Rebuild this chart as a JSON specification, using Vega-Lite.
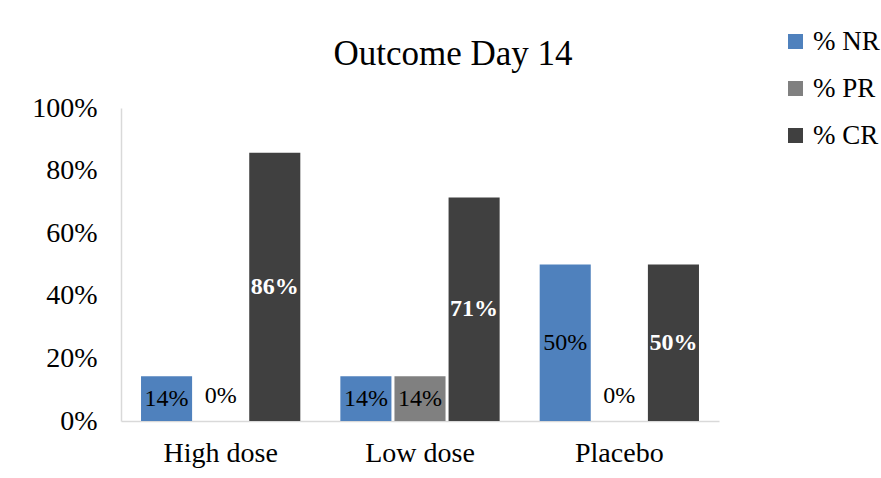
{
  "$schema": "https://vega.github.io/schema/vega-lite/v6.json",
  "width": 598,
  "height": 313,
  "autosize": {"type": "none"},
  "padding": {"left": 121, "top": 108, "right": 162, "bottom": 57},
  "background": "white",
  "title": {
    "text": "Outcome Day 14",
    "font": "Liberation Serif",
    "fontSize": 35,
    "fontWeight": "normal",
    "color": "#000000",
    "anchor": "middle",
    "baseline": "alphabetic",
    "offset": 41,
    "dx": 33,
    "dy": 113
  },
  "data": {
    "values": [
      {"group": "High dose", "series": "% NR", "value": 0.143, "label": "14%"},
      {"group": "High dose", "series": "% PR", "value": 0.0, "label": "0%"},
      {"group": "High dose", "series": "% CR", "value": 0.857, "label": "86%"},
      {"group": "Low dose", "series": "% NR", "value": 0.143, "label": "14%"},
      {"group": "Low dose", "series": "% PR", "value": 0.143, "label": "14%"},
      {"group": "Low dose", "series": "% CR", "value": 0.714, "label": "71%"},
      {"group": "Placebo", "series": "% NR", "value": 0.5, "label": "50%"},
      {"group": "Placebo", "series": "% PR", "value": 0.0, "label": "0%"},
      {"group": "Placebo", "series": "% CR", "value": 0.5, "label": "50%"}
    ]
  },
  "transform": [
    {"calculate": "datum.value == 0 ? 0.08 : datum.value / 2", "as": "mid"}
  ],
  "encoding": {
    "x": {
      "field": "group",
      "type": "nominal",
      "sort": ["High dose", "Low dose", "Placebo"],
      "scale": {"paddingInner": 0, "paddingOuter": 0},
      "axis": {
        "title": null,
        "labelAngle": 0,
        "labelFont": "Liberation Serif",
        "labelFontSize": 28,
        "labelColor": "#000000",
        "labelPadding": 18,
        "ticks": false,
        "domain": true,
        "domainColor": "#d9d9d9",
        "domainWidth": 1.5
      }
    },
    "xOffset": {
      "field": "series",
      "type": "nominal",
      "sort": ["% NR", "% PR", "% CR"],
      "scale": {"paddingInner": 0.056, "paddingOuter": 0.37}
    }
  },
  "layer": [
    {
      "mark": {"type": "bar"},
      "encoding": {
        "y": {
          "field": "value",
          "type": "quantitative",
          "scale": {"domain": [0, 1]},
          "axis": {
            "title": null,
            "format": ".0%",
            "values": [0, 0.2, 0.4, 0.6, 0.8, 1],
            "grid": false,
            "ticks": false,
            "domain": true,
            "domainColor": "#d9d9d9",
            "domainWidth": 1.5,
            "labelFont": "Liberation Serif",
            "labelFontSize": 28,
            "labelColor": "#000000",
            "labelPadding": 24
          }
        },
        "color": {
          "field": "series",
          "type": "nominal",
          "sort": ["% NR", "% PR", "% CR"],
          "scale": {"domain": ["% NR", "% PR", "% CR"], "range": ["#4F81BD", "#808080", "#404040"]},
          "legend": {
            "title": null,
            "orient": "none",
            "legendX": 661,
            "legendY": -80,
            "symbolType": "square",
            "symbolSize": 225,
            "symbolStrokeWidth": 0,
            "labelFont": "Liberation Serif",
            "labelFontSize": 27,
            "labelColor": "#000000",
            "labelOffset": 4,
            "rowPadding": 19,
            "labelLimit": 200
          }
        }
      }
    },
    {
      "transform": [{"filter": "datum.series !== '% CR'"}],
      "mark": {"type": "text", "font": "Liberation Serif", "fontSize": 24, "color": "#000000", "baseline": "middle"},
      "encoding": {
        "y": {"field": "mid", "type": "quantitative"},
        "text": {"field": "label"}
      }
    },
    {
      "transform": [{"filter": "datum.series === '% CR'"}],
      "mark": {"type": "text", "font": "Liberation Serif", "fontSize": 24, "fontWeight": "bold", "color": "#ffffff", "baseline": "middle"},
      "encoding": {
        "y": {"field": "mid", "type": "quantitative"},
        "text": {"field": "label"}
      }
    }
  ],
  "config": {"view": {"stroke": null}}
}
